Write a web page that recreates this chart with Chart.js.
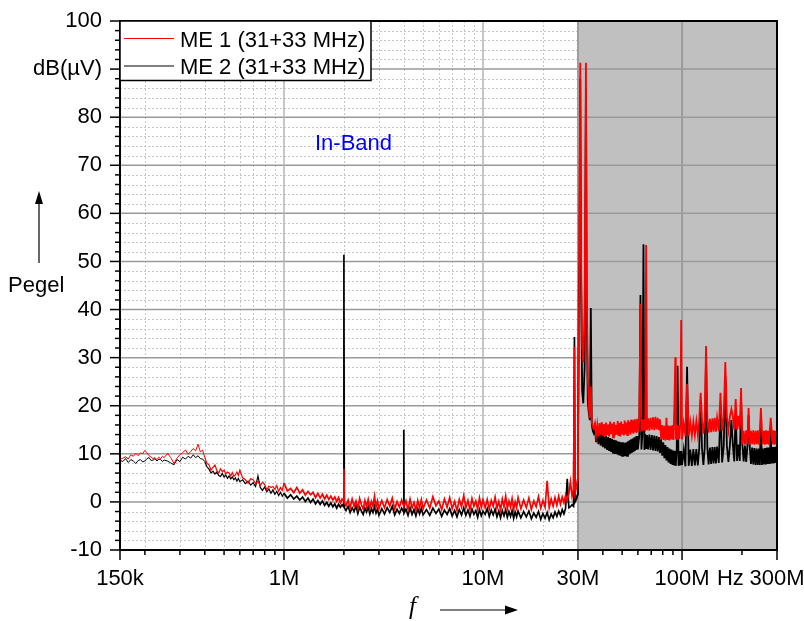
<!DOCTYPE html>
<html><head><meta charset="utf-8">
<script src="https://cdn.jsdelivr.net/npm/chart.js@4"></script>
<style>html,body{margin:0;padding:0;background:#fff}canvas{display:block}</style>
</head><body>
<canvas id="c" width="804" height="621"></canvas>
<script>
// ---- data (frequency in MHz, level in dB(µV)) ----
const freqA = [0.150,0.1505,0.155,0.160,0.165,0.170,0.175,0.180,0.185,0.190,0.195,0.200,0.205,0.210,0.215,0.220,0.225,0.230,0.235,0.240,0.245,0.250,0.260,0.270,0.280,0.290,0.300,0.310,0.320,0.330,0.340,0.350,0.360,0.370,0.380,0.390,0.400];
const me1A = [-12,8.9,9.1,9.4,8.9,9.8,9.5,10.1,9.6,10.2,10.0,10.7,10.2,9.6,9.3,9.0,9.2,8.8,9.3,9.0,9.5,9.2,10.1,9.2,8.0,9.1,9.8,10.3,10.8,9.9,10.5,11.1,10.6,12.0,10.4,10.8,9.2];
const me2A = [-12,8.6,8.4,9.0,8.2,8.8,8.5,8.0,8.6,8.8,8.3,8.5,9.0,9.2,8.6,8.7,9.0,8.5,8.9,8.8,8.4,8.7,8.5,8.1,7.7,8.8,8.4,9.3,8.9,9.5,9.1,9.8,9.2,9.6,9.0,8.9,8.4];

const freqB = [0.41,0.42,0.43,0.44,0.45,0.46,0.47,0.48,0.49,0.50,0.51,0.52,0.53,0.54,0.55,0.56,0.57,0.58,0.59,0.60,0.62,0.64,0.66,0.68,0.70,0.72,0.74,0.76,0.78,0.80,0.82,0.84,0.86,0.88,0.90,0.92,0.94,0.96,0.98,1.00,1.04,1.08,1.12,1.16,1.20,1.24,1.28,1.32,1.36,1.40,1.44,1.48,1.52,1.56,1.60,1.64,1.68,1.72,1.76,1.80,1.84,1.88,1.92,1.96];
const me1B = [8.0,7.7,6.6,7.2,7.7,6.5,6.0,6.9,6.3,6.6,5.8,6.2,6.0,5.4,6.1,5.3,5.6,6.2,5.5,6.6,5.0,4.6,3.9,4.8,4.6,3.8,4.3,3.4,4.1,3.6,2.5,3.3,3.0,3.2,2.6,3.4,2.2,3.0,2.4,3.9,2.3,2.8,1.9,3.0,1.8,2.5,1.4,2.2,1.5,2.0,0.9,1.8,0.8,1.6,0.6,1.4,0.5,1.2,0.4,1.0,0.1,0.9,-0.2,0.6];
const me2B = [7.3,6.8,6.0,6.4,5.8,6.2,5.5,5.3,5.9,5.2,5.6,4.9,5.4,4.8,5.2,4.6,5.0,4.3,4.9,4.2,4.6,3.8,4.3,3.5,4.0,3.2,5.4,3.0,2.4,3.1,2.1,2.7,1.8,2.5,1.6,2.2,1.3,2.0,1.2,1.8,0.8,1.5,0.6,1.2,0.4,1.0,0.1,0.8,-0.1,0.6,-0.4,0.3,-0.5,0.2,-0.7,-0.1,-0.9,-0.2,-1.0,-0.4,-1.3,-0.5,-1.1,-0.6];

const freqC1 = [1.99,2.00,2.01,2.05,2.10,2.15,2.20,2.25,2.30,2.35,2.40,2.45,2.50,2.55,2.60,2.65,2.70,2.75,2.80,2.85,2.90,2.95,3.00];
const me1C1 = [0.3,6.9,-0.2,-0.8,0.4,-1.2,0.6,-0.9,0.2,-1.4,0.7,-0.6,-1.5,0.3,-1.0,0.5,-1.3,0.1,-0.9,1.2,-1.1,0.2,-1.4];
const me2C1 = [-1.0,51.4,-1.2,-1.8,-0.9,-2.2,-1.2,-2.0,-0.8,-2.4,-1.1,-1.9,-2.6,-1.3,-2.1,-1.0,-2.5,-1.4,-2.2,-0.9,-2.3,-1.5,-2.8];

const freqC2 = [3.1,3.2,3.3,3.4,3.5,3.6,3.7,3.8,3.9,3.99,4.0,4.01,4.1,4.2,4.3,4.4,4.5,4.6,4.7,4.8,4.9,5.0];
const me1C2 = [0.3,-1.2,0.5,-0.9,0.8,-1.5,0.1,-1.1,0.4,-0.8,-0.5,-1.0,0.2,-1.6,0.6,-1.2,-0.1,-1.7,0.3,-1.3,0.5,-1.4];
const me2C2 = [-1.4,-2.5,-1.2,-2.2,-0.9,-2.7,-1.5,-2.4,-1.3,-2.1,15.0,-2.3,-1.5,-2.8,-1.2,-2.6,-1.6,-2.9,-1.4,-2.5,-1.3,-2.7];

const freqC3 = [5.2,5.4,5.6,5.8,6.0,6.2,6.4,6.6,6.8,7.0,7.2,7.4,7.6,7.8,8.0,8.2,8.4,8.6,8.8,9.0,9.2,9.4,9.6,9.8,10.0];
const me1C3 = [0.4,-1.3,1.1,-0.8,0.2,-1.6,0.6,-1.1,0.9,-1.4,0.1,-1.8,0.5,-1.0,1.3,-1.2,0.3,-1.6,0.7,-0.9,0.2,-1.5,0.8,-1.1,0.4];
const me2C3 = [-1.6,-2.8,-1.3,-2.4,-1.5,-3.0,-1.7,-2.6,-1.4,-2.9,-1.8,-3.1,-1.6,-2.7,-1.2,-2.8,-1.7,-3.0,-1.5,-2.6,-1.8,-3.2,-1.6,-2.9,-1.9];

const freqC4 = [10.25,10.5,10.75,11.0,11.25,11.5,11.75,12.0,12.25,12.5,12.75,13.0,13.25,13.5,13.75,14.0,14.25,14.5,14.75,15.0];
const me1C4 = [-1.2,0.5,-1.5,0.3,-0.9,1.0,-1.3,0.1,-1.7,0.6,-1.0,1.2,-1.4,0.2,-1.1,0.7,-1.6,0.0,-1.2,0.9];
const me2C4 = [-2.6,-1.4,-3.0,-1.7,-2.7,-1.5,-3.1,-1.9,-3.3,-1.8,-2.9,-1.6,-3.2,-2.0,-3.0,-1.8,-3.4,-2.1,-3.1,-1.9];

const freqC5 = [15.5,16,16.5,17,17.5,18,18.5,19,19.5,20,20.5,21,21.5,22,22.5,23,23.5,24,24.5,25,25.5,26,26.5,27,27.5,28,28.5,28.8,29,29.5];
const me1C5 = [-1.4,0.4,-1.2,0.8,-1.6,0.2,-1.0,1.1,-1.3,0.3,-1.1,4.4,-1.2,0.6,-0.9,0.9,-0.7,1.2,-0.5,1.0,-0.2,1.4,0.3,1.7,4.2,1.2,2.6,32.2,1.8,3.2];
const me2C5 = [-3.3,-2.0,-3.1,-1.9,-3.5,-2.3,-3.2,-2.0,-3.6,-2.4,-3.4,-2.2,-3.7,-2.5,-3.3,-2.1,-3.0,-1.9,-2.8,-1.6,-2.5,-1.3,4.8,-1.2,-1.0,-0.6,-0.9,34.3,0.0,0.6];

const freqD0 = [29.8,30.0,30.3,30.5,30.8,31.1,31.5,31.9,32.4,32.9,33.2,33.6,34.0,34.4,34.8,35.2,35.6,36.0];
const me1D0 = [4.5,14,30,60,91.3,50,32,29,40,91.3,45,26,20,17.5,24,16.5,15.6,15.2];
const me2D0 = [1.5,8,45,50,88,45,23,20.5,28,86,40,21,18.5,17,40.3,16,14.8,14.3];

const freqD1 = [36.5,37,37.5,38,38.5,39,39.5,40,40.5,41,41.5,42,42.5,43,43.5,44,44.5,45,45.5,46,46.5,47,47.5,48,48.5,49,49.5,50,50.5,51,51.5,52,52.5,53,53.5,54,54.5,55,55.5,56,56.5,57,57.5,58,58.5,59,59.5,60];
const me1D1 = [16.3,13.8,16.0,13.6,16.4,14.0,16.6,13.7,16.2,13.5,16.5,13.9,16.1,13.6,16.7,14.1,16.3,13.4,16.6,13.8,16.0,14.0,16.8,13.7,16.4,13.6,16.7,14.2,16.2,13.8,16.9,14.1,16.5,13.9,17.0,14.3,16.6,14.0,17.1,14.4,16.8,14.2,17.2,14.5,16.9,14.3,17.3,14.6];
const me2D1 = [15.4,12.4,15.0,12.0,14.6,11.7,14.3,11.4,14.0,11.1,13.8,10.8,13.5,10.6,13.3,10.4,13.1,10.2,12.9,10.0,12.8,9.9,12.6,9.7,12.5,9.6,12.4,9.6,12.4,9.5,12.3,9.5,12.4,9.6,12.6,9.8,12.8,10.0,13.0,10.2,13.2,10.4,13.4,10.6,13.6,10.8,13.7,10.9];

const freqD2 = [61,61.8,62.5,63.2,64,64.7,65.3,66,66.7,67.5,68.5,69.5,70.5,71.5,72.5,73.5,74.5,75.5,76.5,77.5,78.5,79.5,80.5,81.5,82.5,83.5,84.5,85.5,86.5,87.5,88.5,89.5,90.5,91.5,92.5,93,94,95,96,97,98,99,100];
const me1D2 = [16.9,41.2,14.6,17.1,14.8,17.2,14.7,53.4,14.9,17.4,14.8,17.5,15.0,17.6,14.9,17.7,15.1,17.5,14.9,17.2,13.1,16.0,12.9,15.8,12.8,17.5,12.9,15.9,12.8,15.8,13.0,16.0,12.9,19.8,30.1,13.0,16.1,12.9,15.9,13.1,16.2,37.8,13.0];
const me2D2 = [13.9,43.0,10.9,14.0,53.6,10.8,14.1,11.0,13.9,10.9,14.0,10.8,13.9,10.7,13.8,10.6,13.7,10.5,13.5,10.2,13.0,9.6,12.4,9.1,11.8,8.6,11.4,8.2,11.1,7.9,10.9,7.7,10.7,7.6,10.6,7.5,10.6,28.3,7.5,10.6,7.6,10.6,7.7];

const freqD3 = [102,104,106,108,110,112,114,116,118,120,122,124,126,128,130,132,134,136,138,140,142,144,146,148,150];
const me1D3 = [16.4,13.6,24.5,13.7,16.6,13.8,16.7,13.9,16.8,14.0,16.9,22.7,17.0,14.2,17.1,32.4,17.2,14.4,17.3,14.5,17.4,14.6,17.5,14.6,17.5];
const me2D3 = [10.8,7.4,28.1,7.5,10.9,7.5,11.0,7.6,11.0,7.6,11.1,21.0,11.1,7.7,11.2,30.0,11.2,7.8,11.3,7.9,11.4,8.0,11.4,8.0,11.5];

const freqD4 = [153,156,159,162,165,168,171,174,177,180,183,186,189,192,195,198,201,204,207,210,213,216,219,222,225,228,231,234,237,240,243,246,249,252,255,258,261,264,267,270,273,276,279,282,285,288,291,294,297,300];
const me1D4 = [14.7,22.7,14.8,17.6,29.1,17.7,14.9,17.8,19.3,17.8,15.0,21.4,15.0,17.9,15.1,23.7,12.0,14.8,11.9,14.9,12.0,19.5,11.9,14.8,12.0,14.9,11.9,14.8,12.0,14.9,11.9,14.8,19.5,14.9,12.0,14.8,11.9,14.9,12.0,14.8,11.9,14.9,17.5,14.8,12.0,14.9,11.9,14.8,12.0,14.7];
const me2D4 = [8.1,20.0,8.2,11.6,26.0,11.7,8.3,11.8,17.0,11.9,8.4,19.0,8.5,11.9,8.5,21.0,11.8,8.4,11.7,8.3,11.6,18.0,11.4,7.9,11.3,7.8,11.2,7.7,11.1,7.7,11.1,7.7,17.0,7.7,11.1,7.8,11.2,7.8,11.3,7.9,11.3,7.9,15.0,8.0,11.4,8.0,11.4,8.1,11.5,8.1];

const seriesNames = ['ME 1 (31+33 MHz)', 'ME 2 (31+33 MHz)'];
const xTickValues = [0.15, 1, 10, 30, 100, 175, 300];
const xTickLabels = ['150k', '1M', '10M', '30M', '100M', 'Hz', '300M'];
const yTickValues = [-10, 0, 10, 20, 30, 40, 50, 60, 70, 80, 90, 100];
const yTickLabels = ['-10', '0', '10', '20', '30', '40', '50', '60', '70', '80', 'dB(µV)', '100'];
const grayStart = 30;   // MHz, start of shaded out-of-band region
const inBandLabel = 'In-Band';
const yAxisName = 'Pegel';
const xAxisName = 'f';

// ---- assemble ----
const freq = [].concat(freqA, freqB, freqC1, freqC2, freqC3, freqC4, freqC5, freqD0, freqD1, freqD2, freqD3, freqD4);
const me1 = [].concat(me1A, me1B, me1C1, me1C2, me1C3, me1C4, me1C5, me1D0, me1D1, me1D2, me1D3, me1D4);
const me2 = [].concat(me2A, me2B, me2C1, me2C2, me2C3, me2C4, me2C5, me2D0, me2D1, me2D2, me2D3, me2D4);

const FONT = '"Liberation Sans", Arial, sans-serif';
const xMinorVals = [];
for (const d of [0.1, 1, 10, 100]) for (let m = 2; m <= 9; m++) {
  const v = +(m * d).toPrecision(3);
  if (v > 0.15 && v < 300) xMinorVals.push(v);
}
function seg(ctx, x1, y1, x2, y2) { ctx.beginPath(); ctx.moveTo(x1, y1); ctx.lineTo(x2, y2); ctx.stroke(); }
function segWidth(c) {
  const f = c.p1.parsed.x;
  return f > 29.5 ? 1.8 : (f > 1 ? 1.7 : (f > 0.4 ? 1.2 : 1));
}

const gridPlugin = {
  id: 'gridBg',
  beforeDatasetsDraw(chart) {
    const { ctx, chartArea: a, scales: { x, y } } = chart;
    const xg = x.getPixelForValue(grayStart);
    ctx.save();
    ctx.lineWidth = 1; ctx.strokeStyle = '#c6c6c6'; ctx.setLineDash([2, 2]);
    for (let v = -8; v < 100; v += 2) {
      if (v % 10 === 0) continue;
      const py = Math.round(y.getPixelForValue(v)) + 0.5;
      seg(ctx, a.left, py, xg, py);
    }
    for (const v of xMinorVals) {
      if (v >= grayStart) continue;
      const px = Math.round(x.getPixelForValue(v)) + 0.5;
      seg(ctx, px, a.top, px, a.bottom);
    }
    ctx.setLineDash([]);
    ctx.fillStyle = '#c0c0c0';
    ctx.fillRect(xg, a.top, a.right - xg, a.bottom - a.top);
    ctx.strokeStyle = '#9a9a9a'; ctx.lineWidth = 1.5;
    for (const v of yTickValues) {
      if (v <= -10 || v >= 100) continue;
      const py = y.getPixelForValue(v);
      seg(ctx, a.left, py, a.right, py);
    }
    ctx.strokeStyle = '#b4b4b4'; ctx.lineWidth = 1.5;
    for (const v of [1, 10]) { const px = x.getPixelForValue(v); seg(ctx, px, a.top, px, a.bottom); }
    ctx.strokeStyle = '#9c9c9c'; ctx.lineWidth = 2;
    for (const v of [30, 100]) { const px = x.getPixelForValue(v); seg(ctx, px, a.top, px, a.bottom); }
    ctx.restore();
  },
  afterDatasetsDraw(chart) {
    const { ctx, chartArea: a, scales: { x, y } } = chart;
    ctx.save();
    ctx.strokeStyle = '#000'; ctx.lineWidth = 2;
    ctx.strokeRect(a.left, a.top, a.right - a.left, a.bottom - a.top);
    ctx.lineWidth = 1.5;
    for (let v = -10; v <= 100; v += 2) {
      const py = y.getPixelForValue(v);
      const len = (v % 10 === 0) ? 10 : 5;
      seg(ctx, a.left - len, py, a.left + 1, py);
    }
    const majorX = [0.15, 1, 10, 30, 100, 300];
    for (const v of xMinorVals) {
      if (majorX.includes(v)) continue;
      const px = x.getPixelForValue(v);
      seg(ctx, px, a.bottom - 1, px, a.bottom + 5);
    }
    for (const v of majorX) {
      const px = x.getPixelForValue(v);
      seg(ctx, px, a.bottom - 1, px, a.bottom + 10);
    }
    // legend
    const lx = a.left, ly = a.top, lw = 251, lh = 59.5;
    ctx.fillStyle = '#fff'; ctx.fillRect(lx, ly, lw, lh);
    ctx.lineWidth = 1.5; ctx.strokeStyle = '#000'; ctx.strokeRect(lx, ly, lw, lh);
    ctx.lineWidth = 1;
    ctx.strokeStyle = chart.data.datasets[0].borderColor; seg(ctx, lx + 4, ly + 17.5, lx + 54, ly + 17.5);
    ctx.strokeStyle = chart.data.datasets[1].borderColor; seg(ctx, lx + 4, ly + 45, lx + 54, ly + 45);
    ctx.fillStyle = '#000'; ctx.font = '22px ' + FONT; ctx.textBaseline = 'alphabetic'; ctx.textAlign = 'left';
    ctx.fillText(seriesNames[0], lx + 60, ly + 25.5);
    ctx.fillText(seriesNames[1], lx + 60, ly + 53);
    ctx.restore();
  },
  afterDraw(chart) {
    const { ctx } = chart;
    ctx.save();
    ctx.textBaseline = 'alphabetic'; ctx.textAlign = 'left';
    ctx.font = '22px ' + FONT;
    ctx.fillStyle = '#0000ff'; ctx.fillText(inBandLabel, 315, 150);
    ctx.fillStyle = '#000'; ctx.fillText(yAxisName, 8, 292);
    ctx.strokeStyle = '#000'; ctx.lineWidth = 1.2;
    seg(ctx, 39, 263, 39, 200);
    ctx.beginPath(); ctx.moveTo(39, 191); ctx.lineTo(35, 204); ctx.lineTo(43, 204); ctx.closePath(); ctx.fill();
    ctx.font = 'italic 25px "Liberation Serif", "Times New Roman", serif';
    ctx.fillText(xAxisName, 409, 614);
    seg(ctx, 440, 610, 508, 610);
    ctx.beginPath(); ctx.moveTo(518, 610); ctx.lineTo(505, 605.5); ctx.lineTo(505, 614.5); ctx.closePath(); ctx.fill();
    ctx.restore();
  }
};

new Chart(document.getElementById('c'), {
  type: 'scatter',
  data: {
    datasets: [
      { label: seriesNames[0], data: freq.map((f, i) => ({ x: f, y: me1[i] })), borderColor: '#ff0000', backgroundColor: '#ff0000', borderWidth: 1, pointRadius: 0, showLine: true, fill: false, tension: 0, segment: { borderWidth: segWidth } },
      { label: seriesNames[1], data: freq.map((f, i) => ({ x: f, y: me2[i] })), borderColor: '#000000', backgroundColor: '#000000', borderWidth: 1, pointRadius: 0, showLine: true, fill: false, tension: 0, segment: { borderWidth: segWidth } }
    ]
  },
  options: {
    responsive: false, animation: false, devicePixelRatio: 1,
    layout: { padding: { left: 0, right: 27, top: 21, bottom: 0 } },
    plugins: { legend: { display: false }, tooltip: { enabled: false } },
    scales: {
      x: {
        type: 'logarithmic', min: 0.15, max: 300, position: 'bottom',
        afterBuildTicks: s => { s.ticks = xTickValues.map(v => ({ value: v })); },
        afterFit: s => { s.height = 71; s.paddingLeft = 0; s.paddingRight = 0; },
        ticks: { autoSkip: false, maxRotation: 0, minRotation: 0, padding: 6, color: '#000', font: { family: FONT, size: 22 }, callback: (v, i) => xTickLabels[i] },
        grid: { display: true, drawOnChartArea: false, drawTicks: true, tickLength: 10, color: 'rgba(0,0,0,0)' },
        border: { display: false }
      },
      y: {
        type: 'linear', min: -10, max: 100, position: 'left',
        afterBuildTicks: s => { s.ticks = yTickValues.map(v => ({ value: v })); },
        afterFit: s => { s.width = 120; s.paddingTop = 0; s.paddingBottom = 0; },
        ticks: { autoSkip: false, padding: 8, color: '#000', font: { family: FONT, size: 22 }, callback: (v, i) => yTickLabels[i] },
        grid: { display: true, drawOnChartArea: false, drawTicks: true, tickLength: 10, color: 'rgba(0,0,0,0)' },
        border: { display: false }
      }
    }
  },
  plugins: [gridPlugin]
});
</script>
</body></html>
